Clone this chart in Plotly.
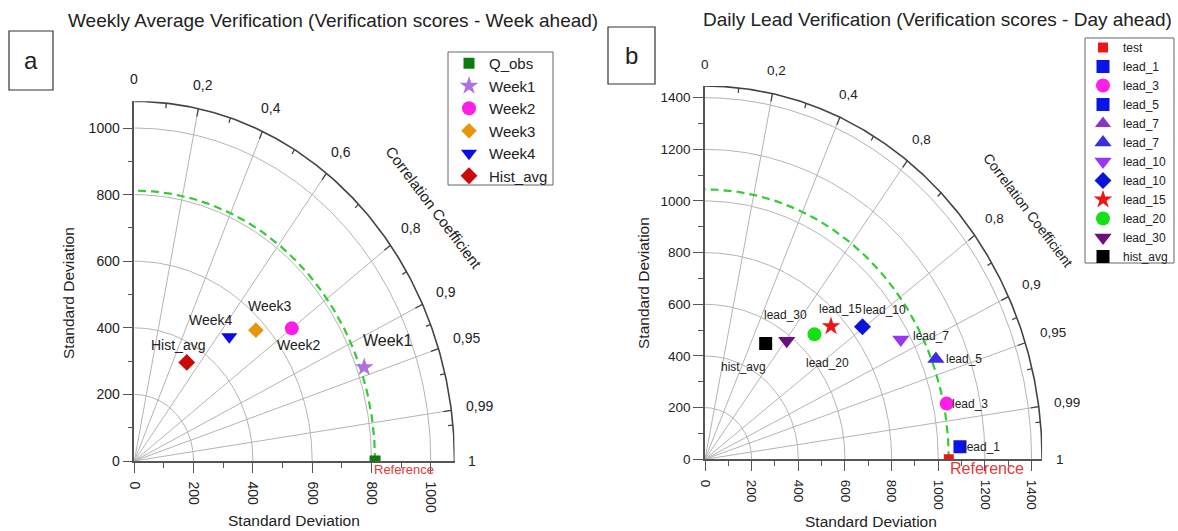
import numpy as np
import plotly.graph_objects as go

# ---------------- data ----------------
# Panel a: weekly average verification
a_names = ["Q_obs", "Week1", "Week2", "Week3", "Week4", "Hist_avg"]
a_std = [812, 825, 664, 568, 492, 345]
a_corr = [1.0, 0.940, 0.800, 0.722, 0.651, 0.513]
a_point_labels = ["", "Week1", "Week2", "Week3", "Week4", "Hist_avg"]

# Panel b: daily lead verification (legend order of the original figure)
b_names = ["test", "lead_1", "lead_3", "lead_5", "lead_7", "lead_7",
           "lead_10", "lead_10", "lead_15", "lead_20", "lead_30", "hist_avg"]
b_std = [1045, 1094, 1058, None, None, 1063, 959, 848, 746, 674, 577, 518]
b_corr = [1.0, 0.999, 0.979, None, None, 0.931, 0.875, 0.796, 0.724, 0.696, 0.607, 0.502]
b_point_labels = ["", "lead_1", "lead_3", "", "", "lead_5", "lead_7",
                  "lead_10", "lead_15", "lead_20", "lead_30", "hist_avg"]

corr_major = [0, 0.2, 0.4, 0.6, 0.8, 0.9, 0.95, 0.99, 1]
corr_minor = [0.1, 0.3, 0.5, 0.7, 0.85, 0.925, 0.97, 0.995]
a_corr_text = ["0", "0,2", "0,4", "0,6", "0,8", "0,9", "0,95", "0,99", "1"]
b_corr_text = ["0", "0,2", "0,4", "0,8", "0,8", "0,9", "0,95", "0,99", "1"]
a_std_arcs = [200, 400, 600, 800, 1000]
b_std_arcs = [200, 400, 600, 800, 1000, 1200, 1400]
a_rmax = 1080
b_rmax = 1445

# ---------------- styles ----------------
W, H = 1178, 531
FONT = "Liberation Sans, Arial, sans-serif"
GRID = "#b4b4b4"
AXC = "#555555"

a_style = [("square", "#0b7d0b", 11), ("star", "#b070e0", 14), ("circle", "#ff1ee6", 14),
           ("diamond", "#e8950e", 12), ("triangle-down", "#0a0ae8", 14), ("diamond", "#cc0a0a", 13)]
b_style = [("square", "#ee1515", 10), ("square", "#0a14e8", 13), ("circle", "#ff1ee6", 14),
           ("square", "#0a14e8", 13), ("triangle-up", "#8a35c8", 14), ("triangle-up", "#3a2ee0", 15),
           ("triangle-down", "#9a35f0", 15), ("diamond", "#0a14d8", 13), ("star", "#ee1515", 14),
           ("circle", "#14e014", 14), ("triangle-down", "#6a0e80", 15), ("square", "#000000", 13)]

# label offsets in pixels (dx, dy up, font size)
a_lab_off = {"Week1": (24, 27, 16), "Week2": (7, -17, 14), "Week3": (14, 24, 14),
             "Week4": (-18, 17, 14), "Hist_avg": (-9, 17, 14)}
b_lab_off = {"lead_1": (22, 0), "lead_3": (23, 0), "lead_5": (28, 0), "lead_7": (30, 3),
             "lead_10": (22, 17), "lead_15": (9, 17), "lead_20": (13, -29),
             "lead_30": (-1, 26), "hist_avg": (-22, -23)}

# pixel geometry of each panel: origin, px per unit in x and y
PANELS = {
    "a": dict(ox=134.3, oy=461.0, sx=0.2965, sy=0.333, rmax=a_rmax, xa="x", ya="y"),
    "b": dict(ox=705.0, oy=459.3, sx=0.2333, sy=0.2583, rmax=b_rmax, xa="x2", ya="y2"),
}


def xy(r, c):
    r = np.asarray(r, dtype=float)
    c = np.asarray(c, dtype=float)
    return r * c, r * np.sqrt(np.clip(1 - c ** 2, 0, 1))


def domains(p):
    x0 = p["ox"] / W
    x1 = (p["ox"] + p["sx"] * p["rmax"]) / W
    y0 = 1 - p["oy"] / H
    y1 = 1 - (p["oy"] - p["sy"] * p["rmax"]) / H
    return [x0, x1], [y0, y1]


fig = go.Figure()
annotations = []
shapes = []


def add_frame(key, std_arcs, ref_std, corr_text, tick_font):
    p = PANELS[key]
    rmax = p["rmax"]
    t = np.linspace(0, np.pi / 2, 240)
    xs, ys = [], []
    for r in std_arcs:
        xs += list(r * np.cos(t)) + [None]
        ys += list(r * np.sin(t)) + [None]
    for c in corr_major[1:-1]:
        x1, y1 = xy(rmax, c)
        xs += [0, float(x1), None]
        ys += [0, float(y1), None]
    fig.add_trace(go.Scatter(x=xs, y=ys, mode="lines", xaxis=p["xa"], yaxis=p["ya"],
                             line=dict(color=GRID, width=1), hoverinfo="skip", showlegend=False))
    fig.add_trace(go.Scatter(x=rmax * np.cos(t), y=rmax * np.sin(t), mode="lines",
                             xaxis=p["xa"], yaxis=p["ya"], line=dict(color="#444444", width=1.6),
                             hoverinfo="skip", showlegend=False))
    txs, tys = [], []
    for cs, L in ((corr_major[1:-1], 8), (corr_minor, 5)):
        for c in cs:
            s = np.sqrt(1 - c ** 2)
            pscale = np.hypot(p["sx"] * c, p["sy"] * s)
            dr = L / pscale
            xa_, ya_ = xy(rmax, c)
            xb_, yb_ = xy(rmax - dr, c)
            txs += [float(xa_), float(xb_), None]
            tys += [float(ya_), float(yb_), None]
    fig.add_trace(go.Scatter(x=txs, y=tys, mode="lines", xaxis=p["xa"], yaxis=p["ya"],
                             line=dict(color="#444444", width=1.3), hoverinfo="skip", showlegend=False))
    fig.add_trace(go.Scatter(x=ref_std * np.cos(t), y=ref_std * np.sin(t), mode="lines",
                             xaxis=p["xa"], yaxis=p["ya"],
                             line=dict(color="#33cc33", width=2.2, dash="8px,5px"),
                             hoverinfo="skip", showlegend=False))
    for c, txt in zip(corr_major, corr_text):
        s = np.sqrt(1 - c ** 2)
        ux, uy = p["sx"] * c, p["sy"] * s
        n = np.hypot(ux, uy)
        ux, uy = ux / n, uy / n
        hw = 0.5 * (sum(7.8 if ch.isdigit() else 3.9 for ch in txt)) * tick_font / 14
        d = 14 + hw * abs(ux) + 8 * abs(uy)
        px = p["ox"] + p["sx"] * rmax * c + d * ux
        py = p["oy"] - p["sy"] * rmax * s - d * uy
        annotations.append(dict(x=px / W, y=1 - py / H, xref="paper", yref="paper",
                                text=txt, showarrow=False, xanchor="center", yanchor="middle",
                                font=dict(size=tick_font, color="#222222", family=FONT)))


def axis(tick_font, rmax, angle):
    return dict(range=[0, rmax], showgrid=False, zeroline=False, showline=True,
                linecolor=AXC, linewidth=1.5, ticks="outside", ticklen=10, tickwidth=1.2,
                tickcolor=AXC, tick0=0, dtick=200, tickangle=angle, automargin=False,
                tickfont=dict(size=tick_font, color="#222222", family=FONT),
                minor=dict(ticks="outside", ticklen=5, dtick=100, tickcolor=AXC, tickwidth=1.2,
                           showgrid=False),
                fixedrange=True)


# ---- panel a ----
add_frame("a", a_std_arcs, a_std[0], a_corr_text, 14)
for i, name in enumerate(a_names):
    sym, col, size = a_style[i]
    x, y = xy([a_std[i]], [a_corr[i]])
    fig.add_trace(go.Scatter(x=x, y=y, mode="markers", name=name, xaxis="x", yaxis="y",
                             marker=dict(symbol=sym, color=col, size=size, line=dict(width=0)),
                             legend="legend"))
    lab = a_point_labels[i]
    if lab:
        dx, dy, fs = a_lab_off[lab]
        annotations.append(dict(x=float(x[0]), y=float(y[0]), xref="x", yref="y", text=lab,
                                showarrow=False, xshift=dx, yshift=dy,
                                font=dict(size=fs, color="#222222", family=FONT)))
ref_x, ref_y = xy([a_std[0]], [a_corr[0]])
annotations.append(dict(x=float(ref_x[0]), y=float(ref_y[0]), xref="x", yref="y", text="Reference",
                        showarrow=False, xshift=29, yshift=-8,
                        font=dict(size=13, color="#e03a3a", family=FONT)))

# ---- panel b ----
add_frame("b", b_std_arcs, b_std[0], b_corr_text, 13.5)
for i, name in enumerate(b_names):
    sym, col, size = b_style[i]
    if b_std[i] is None:
        x, y = [None], [None]
    else:
        x, y = xy([b_std[i]], [b_corr[i]])
    fig.add_trace(go.Scatter(x=x, y=y, mode="markers", name=name, xaxis="x2", yaxis="y2",
                             marker=dict(symbol=sym, color=col, size=size, line=dict(width=0)),
                             legend="legend2"))
    lab = b_point_labels[i]
    if lab:
        dx, dy = b_lab_off[lab]
        annotations.append(dict(x=float(x[0]), y=float(y[0]), xref="x2", yref="y2", text=lab,
                                showarrow=False, xshift=dx, yshift=dy,
                                font=dict(size=12, color="#222222", family=FONT)))
ref_x, ref_y = xy([b_std[0]], [b_corr[0]])
annotations.append(dict(x=float(ref_x[0]), y=float(ref_y[0]), xref="x2", yref="y2", text="Reference",
                        showarrow=False, xshift=38, yshift=-9,
                        font=dict(size=16, color="#e03a3a", family=FONT)))


def paper_text(px, py, text, size, angle=0, color="#222222"):
    annotations.append(dict(x=px / W, y=1 - py / H, xref="paper", yref="paper", text=text,
                            showarrow=False, xanchor="center", yanchor="middle", textangle=angle,
                            font=dict(size=size, color=color, family=FONT)))


def paper_rect(x0, y0, x1, y1, color="#333333", width=1.2):
    shapes.append(dict(type="rect", xref="paper", yref="paper", x0=x0 / W, x1=x1 / W,
                       y0=1 - y1 / H, y1=1 - y0 / H, line=dict(color=color, width=width),
                       fillcolor="rgba(0,0,0,0)", layer="above"))


paper_text(333, 21, "Weekly Average Verification (Verification scores - Week ahead)", 19)
paper_text(937, 20, "Daily Lead Verification (Verification scores - Day ahead)", 19)
paper_text(294, 520, "Standard Deviation", 15.5)
paper_text(68, 293, "Standard Deviation", 15.5, angle=-90)
paper_text(871, 521, "Standard Deviation", 15.5)
paper_text(643, 283, "Standard Deviation", 15.5, angle=-90)
paper_text(434, 207, "Correlation Coefficient", 15, angle=53)
paper_text(1028, 210, "Correlation Coefficient", 14, angle=53)
paper_text(31, 61, "a", 24)
paper_text(631, 56, "b", 24)
paper_rect(9, 31, 53, 90)
paper_rect(608, 27, 655, 84)
# legend frames
paper_rect(448, 52, 553, 185, color="#666666", width=1)
paper_rect(1085, 38, 1174, 263, color="#666666", width=1)

xa_dom, ya_dom = domains(PANELS["a"])
xb_dom, yb_dom = domains(PANELS["b"])

xa = axis(14, a_rmax, 90); xa.update(domain=xa_dom, anchor="y", ticklabelstandoff=6)
ya = axis(14, a_rmax, 0); ya.update(domain=ya_dom, anchor="x")
xb = axis(13.5, b_rmax, 90); xb.update(domain=xb_dom, anchor="y2", ticklabelstandoff=6)
yb = axis(13.5, b_rmax, 0); yb.update(domain=yb_dom, anchor="x2")

fig.update_layout(
    width=W, height=H, margin=dict(l=0, r=0, t=0, b=0, autoexpand=False),
    paper_bgcolor="white", plot_bgcolor="white",
    font=dict(family=FONT, color="#222222"),
    xaxis=xa, yaxis=ya, xaxis2=xb, yaxis2=yb,
    annotations=annotations, shapes=shapes,
    legend=dict(x=449 / W, y=1 - 47 / H, xanchor="left", yanchor="top",
                borderwidth=0, bgcolor="rgba(0,0,0,0)",
                font=dict(size=15, color="#222222", family=FONT), traceorder="normal"),
    legend2=dict(x=1083 / W, y=1 - 33 / H, xanchor="left", yanchor="top",
                 borderwidth=0, bgcolor="rgba(0,0,0,0)",
                 font=dict(size=12, color="#222222", family=FONT), traceorder="normal"),
    showlegend=True,
)

fig.write_html("out.html", config={"displayModeBar": False},
               post_script="document.body.style.margin='0px';document.body.style.overflow='hidden';")
